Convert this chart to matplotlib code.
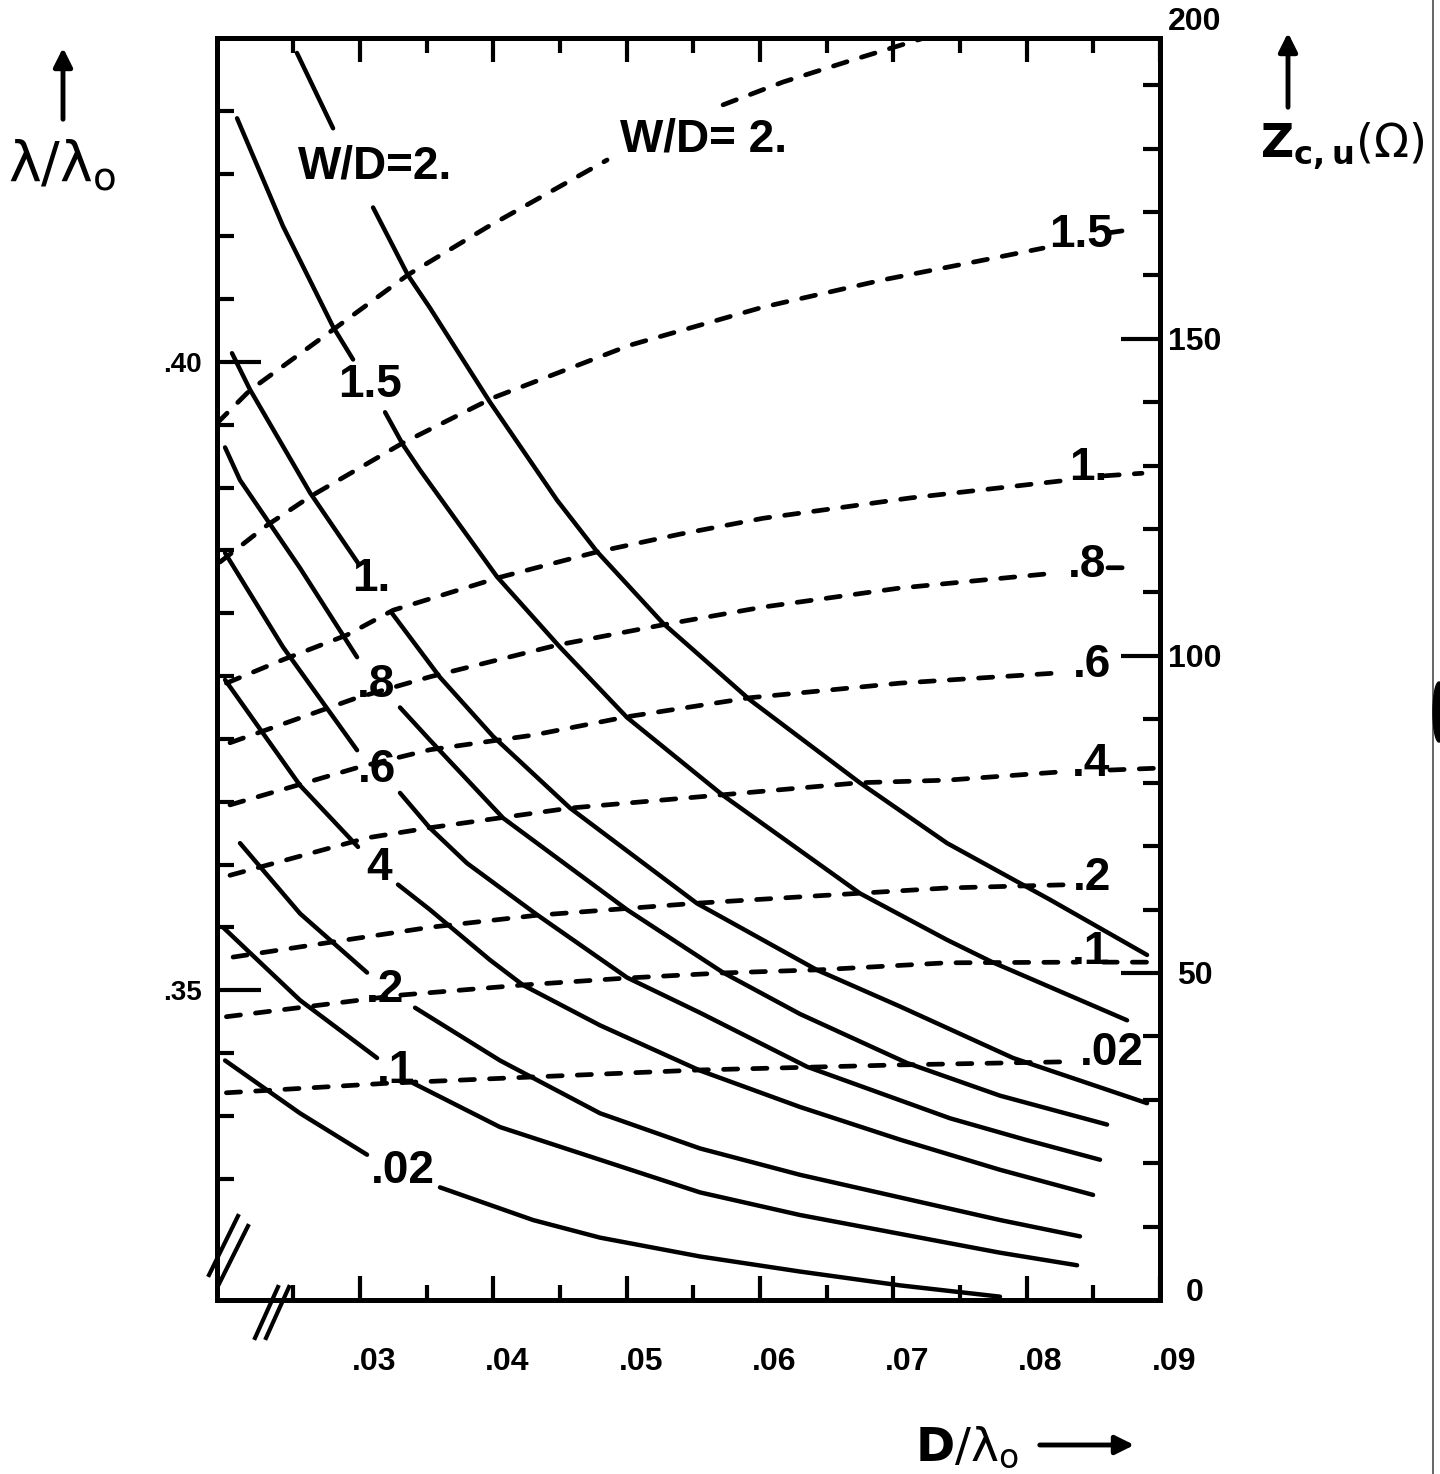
import numpy as np
import matplotlib
matplotlib.use('Agg')
import matplotlib.pyplot as plt
from matplotlib.lines import Line2D
from matplotlib.patches import Ellipse
from matplotlib.transforms import ScaledTranslation

plt.rcParams['font.family'] = ['Liberation Sans', 'DejaVu Sans']
plt.rcParams['mathtext.fontset'] = 'dejavusans'

nan = np.nan

# ---- solid curves: lambda/lambda_o vs D/lambda_o  (nan = gap for the label)
lam_2_x = [0.02527, 0.02798, nan, 0.03098, 0.0336, 0.03525, 0.03975, 0.04478, 0.04778,
           0.05273, 0.05498, 0.05925, 0.0675, 0.07403, 0.08175, 0.08903]
lam_2_y = [0.4246, 0.4186, nan, 0.4123, 0.4069, 0.4043, 0.3968, 0.3890, 0.3849,
           0.3792, 0.3771, 0.3731, 0.3665, 0.3617, 0.3572, 0.3528]

lam_15_x = [0.02078, 0.02423, 0.02798, 0.02948, nan, 0.03188, 0.03323, 0.0345, 0.04028,
            0.045, 0.05003, 0.05723, 0.0675, 0.07403, 0.07748, 0.08753]
lam_15_y = [0.4194, 0.4108, 0.4028, 0.4002, nan, 0.3960, 0.3934, 0.3914, 0.3829,
            0.3773, 0.3717, 0.3655, 0.3577, 0.3540, 0.3522, 0.3476]

lam_1_x = [0.0204, 0.02175, 0.02625, 0.02985, nan, 0.0324, 0.036, 0.03998, 0.04575,
           0.05528, 0.06428, 0.0705, 0.07898, 0.08903]
lam_1_y = [0.4007, 0.3978, 0.3896, 0.3840, nan, 0.3800, 0.3749, 0.3702, 0.3645,
           0.3569, 0.3516, 0.3487, 0.3446, 0.3410]

lam_08_x = [0.01988, 0.021, 0.0255, 0.02978, nan, 0.033, 0.03525, 0.04073, 0.05003,
            0.05723, 0.063, 0.07103, 0.078, 0.08603]
lam_08_y = [0.3932, 0.3906, 0.3836, 0.3765, nan, 0.3725, 0.3699, 0.3637, 0.3564,
            0.3514, 0.3481, 0.3442, 0.3416, 0.3393]

lam_06_x = [0.01988, 0.02423, 0.02978, nan, 0.033, 0.03525, 0.03803, 0.04328, 0.05003,
            0.0555, 0.06353, 0.07425, 0.07988, 0.0855]
lam_06_y = [0.3848, 0.3773, 0.3691, nan, 0.3657, 0.3629, 0.3601, 0.3560, 0.3510,
            0.3482, 0.3439, 0.3398, 0.3381, 0.3365]

lam_04_x = [0.01988, 0.0255, 0.02985, nan, 0.03285, 0.03525, 0.03975, 0.04223, 0.048,
            0.0555, 0.063, 0.0705, 0.078, 0.08498]
lam_04_y = [0.3747, 0.3663, 0.3614, nan, 0.3584, 0.3564, 0.3524, 0.3504, 0.3472,
            0.3436, 0.3407, 0.3381, 0.3357, 0.3337]

lam_02_x = [0.021, 0.0255, 0.03053, nan, 0.03413, 0.0405, 0.048, 0.0555, 0.063,
            0.0705, 0.078, 0.084]
lam_02_y = [0.3617, 0.3561, 0.3514, nan, 0.3486, 0.3444, 0.3402, 0.3374, 0.3353,
            0.3335, 0.3317, 0.3304]

lam_01_x = [0.01973, 0.0255, 0.03128, nan, 0.03398, 0.0405, 0.048, 0.0555, 0.063,
            0.0705, 0.078, 0.08378]
lam_01_y = [0.3550, 0.3492, 0.3446, nan, 0.3426, 0.3391, 0.3365, 0.3339, 0.3321,
            0.3306, 0.3291, 0.3281]

lam_002_x = [0.01988, 0.0255, 0.03053, nan, 0.036, 0.04298, 0.048, 0.0555, 0.063,
             0.0705, 0.078]
lam_002_y = [0.3444, 0.3402, 0.3369, nan, 0.3343, 0.3317, 0.3303, 0.3288, 0.3276,
             0.3265, 0.3256]

# ---- dashed curves: Z_c,u (ohm) vs D/lambda_o
z_2_x = [0.01928, 0.02175, 0.02828, 0.0336, 0.03953, 0.04853, nan, 0.05723, 0.06173,
         0.06698, 0.07178, 0.0735]
z_2_y = [136.7, 141.9, 151.9, 160.1, 167.6, 178.2, nan, 186.9, 190.5, 194.0, 197.1, 198.2]

z_15_x = [0.0195, 0.02303, 0.02625, 0.03323, 0.03998, 0.05025, 0.06023, 0.06923, 0.07673,
          0.08123, nan, 0.0861, 0.08775]
z_15_y = [114.8, 120.6, 125.1, 133.6, 140.7, 149.0, 155.0, 159.3, 162.4, 164.3, nan, 166.7, 167.2]

z_1_x = [0.01998, 0.02423, 0.02903, 0.03248, 0.0405, 0.04778, 0.054, 0.06023, 0.07125,
         0.08303, nan, 0.08588, 0.08865]
z_1_y = [95.7, 99.4, 103.3, 107.2, 112.4, 116.4, 119.2, 121.7, 124.9, 127.7, nan, 128.4, 128.8]

z_08_x = [0.02025, 0.02978, 0.03525, 0.04478, 0.05273, 0.06023, 0.0705, 0.08235, nan,
          0.0861, 0.0876]
z_08_y = [86.3, 93.4, 96.7, 101.7, 104.9, 107.7, 110.7, 113.1, nan, 113.9, 113.9]

z_06_x = [0.02025, 0.03, 0.03525, 0.04298, 0.05003, 0.05925, 0.0705, 0.08228]
z_06_y = [76.5, 82.5, 85.2, 87.5, 90.4, 93.4, 95.7, 97.3]

z_04_x = [0.02025, 0.03053, 0.03525, 0.04575, 0.05723, 0.0675, 0.07403, 0.0825, nan,
          0.08625, 0.0899]
z_04_y = [65.4, 71.3, 72.9, 76.0, 78.1, 80.0, 80.4, 81.7, nan, 82.0, 82.3]

z_02_x = [0.02048, 0.02798, 0.03525, 0.04328, 0.05528, 0.06773, 0.07403, 0.08288]
z_02_y = [52.5, 54.9, 57.2, 59.1, 61.0, 62.6, 63.4, 63.9]

z_01_x = [0.01998, 0.033, 0.04223, 0.05003, 0.05723, 0.0645, 0.07403, 0.08378, nan,
          0.08573, 0.08985]
z_01_y = [43.1, 46.5, 48.1, 49.2, 50.0, 50.5, 51.6, 51.7, nan, 51.7, 51.7]

z_002_x = [0.01998, 0.03203, 0.04298, 0.0555, 0.0705, 0.08325]
z_002_y = [31.1, 32.6, 33.6, 34.7, 35.5, 36.0]

# curve labels
sol_labels = ['W/D=2.', '1.5', '1.', '.8', '.6', '4', '.2', '.1', '.02']
sol_label_x = [0.03113, 0.03075, 0.03083, 0.0312, 0.03128, 0.03143, 0.03188, 0.0327, 0.03323]
sol_label_y = [0.4156, 0.3982, 0.3827, 0.3743, 0.3675, 0.3597, 0.3500, 0.3436, 0.3356]

dash_labels = ['W/D= 2.', '1.5', '1.', '.8', '.6', '.4', '.2', '.1', '.02']
dash_label_x = [0.05573, 0.08408, 0.0846, 0.08453, 0.0849, 0.08483, 0.0849, 0.08483, 0.0864]
dash_label_y = [181.5, 166.4, 129.6, 114.3, 98.6, 83.0, 65.0, 53.3, 37.4]

x_major = [0.03, 0.04, 0.05, 0.06, 0.07, 0.08, 0.09]
x_major_lbl = ['.03', '.04', '.05', '.06', '.07', '.08', '.09']
x_minor = [0.025, 0.035, 0.045, 0.055, 0.065, 0.075, 0.085]
lam_major = [0.35, 0.40]
lam_major_lbl = ['.35', '.40']
lam_minor = [0.335, 0.34, 0.345, 0.355, 0.36, 0.365, 0.37, 0.375, 0.38, 0.385, 0.39,
             0.395, 0.405, 0.41, 0.415, 0.42]
z_major = [0, 50, 100, 150]
z_major_lbl = ['0', '50', '100', '150']
z_minor = [10, 20, 30, 40, 60, 70, 80, 90, 110, 120, 130, 140, 160, 170, 180, 190]

W, H = 1440, 1474
fig = plt.figure(figsize=(W / 100, H / 100), dpi=100)
ax = fig.add_axes([217 / W, 1 - 1300 / H, 943 / W, 1262 / H])
ax2 = ax.twinx()

ax.set_xlim(0.019275, 0.09)
ax.set_ylim(0.325335, 0.42579)
ax2.set_ylim(-1.577, 197.44)

solid = [(lam_2_x, lam_2_y), (lam_15_x, lam_15_y), (lam_1_x, lam_1_y), (lam_08_x, lam_08_y),
         (lam_06_x, lam_06_y), (lam_04_x, lam_04_y), (lam_02_x, lam_02_y),
         (lam_01_x, lam_01_y), (lam_002_x, lam_002_y)]
for xs, ys in solid:
    ax.plot(xs, ys, color='black', lw=3.2, solid_capstyle='round', solid_joinstyle='round')

dashed = [(z_2_x, z_2_y), (z_15_x, z_15_y), (z_1_x, z_1_y), (z_08_x, z_08_y),
          (z_06_x, z_06_y), (z_04_x, z_04_y), (z_02_x, z_02_y), (z_01_x, z_01_y),
          (z_002_x, z_002_y)]
for xs, ys in dashed:
    ax2.plot(xs, ys, color='black', lw=3.4, dashes=(3.0, 3.2), dash_capstyle='round')

lbl_font = dict(fontsize=33, fontweight='bold', ha='center', va='center')
for t, x, y in zip(sol_labels, sol_label_x, sol_label_y):
    ax.text(x, y, t, **lbl_font)
for t, x, y in zip(dash_labels, dash_label_x, dash_label_y):
    ax2.text(x, y, t, **lbl_font)

# frame
for a in (ax, ax2):
    for s in a.spines.values():
        s.set_linewidth(3.6)

ax.set_xticks(x_major)
ax.set_xticklabels(x_major_lbl)
ax.set_xticks(x_minor, minor=True)
ax.set_yticks(lam_major)
ax.set_yticklabels(lam_major_lbl)
ax.set_yticks(lam_minor, minor=True)
ax.tick_params(axis='x', which='both', direction='in', top=True, width=3, pad=34,
               labelsize=23)
ax.tick_params(axis='x', which='major', length=17)
ax.tick_params(axis='x', which='minor', length=11)
ax.tick_params(axis='y', which='both', direction='in', width=3, pad=11, labelsize=20)
ax.tick_params(axis='y', which='major', length=32)
ax.tick_params(axis='y', which='minor', length=12)

ax2.set_yticks(z_major)
ax2.set_yticklabels(z_major_lbl)
ax2.set_yticks(z_minor, minor=True)
ax2.tick_params(axis='y', which='both', direction='in', width=3, pad=25, labelsize=23)
ax2.tick_params(axis='y', which='major', length=28)
ax2.tick_params(axis='y', which='minor', length=12)
ax2.yaxis.get_major_ticks()[0].tick2line.set_visible(False)
for t in ax2.get_yticklabels():
    t.set_ha('center')
    t.set_fontweight('bold')
ax2.annotate('200', xy=(1, 200), xycoords=('axes fraction', 'data'), xytext=(25, 0),
             textcoords='offset points', ha='center', va='center', fontsize=23,
             fontweight='bold', annotation_clip=False)

shift = ScaledTranslation(0.14, 0, fig.dpi_scale_trans)
for t in ax.get_xticklabels():
    t.set_transform(t.get_transform() + shift)
    t.set_fontweight('bold')
for t in ax.get_yticklabels():
    t.set_fontweight('bold')

# axis titles with arrows
fig.text(8 / W, 1 - 180 / H, r'$\mathrm{\lambda/\lambda_o}$', fontsize=40, va='baseline')
fig.text(1260 / W, 1 - 157 / H, r'$\mathbf{Z}_{\mathbf{c,u}}(\Omega)$', fontsize=33,
         va='baseline')
fig.text(915 / W, 1 - 1460 / H, r'$\mathbf{D}/\mathrm{\lambda_o}$', fontsize=34,
         va='baseline')

arrow = dict(arrowstyle='-|>', lw=3.5, color='black', mutation_scale=28)
ax.annotate('', xy=(63, H - 45), xytext=(63, H - 122), xycoords='figure pixels',
            arrowprops=arrow)
ax.annotate('', xy=(1288, H - 30), xytext=(1288, H - 110), xycoords='figure pixels',
            arrowprops=arrow)
ax.annotate('', xy=(1137, H - 1445), xytext=(1037, H - 1445), xycoords='figure pixels',
            arrowprops=arrow)

# axis break marks
def fline(x0, y0, x1, y1, **kw):
    fig.add_artist(Line2D([x0 / W, x1 / W], [1 - y0 / H, 1 - y1 / H],
                          transform=fig.transFigure, color='black', **kw))

fline(209, 1275, 238, 1216, lw=3)
fline(219, 1284, 248, 1226, lw=3)
fline(255, 1338, 278, 1287, lw=3)
fline(266, 1338, 289, 1287, lw=3)

# scan edge at the right
fline(1433, 0, 1433, H, lw=1.2, alpha=0.7)
fig.add_artist(Ellipse((1439 / W, 1 - 712 / H), 12 / W, 60 / H, transform=fig.transFigure,
                       color='black'))

fig.savefig('out.png', dpi=100)
